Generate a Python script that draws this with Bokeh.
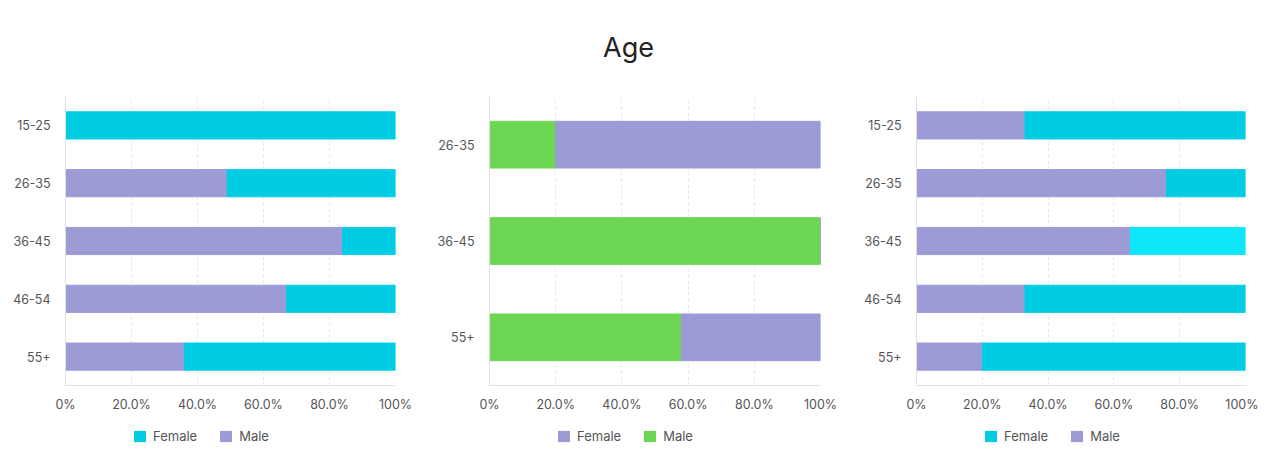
from bokeh.plotting import figure
from bokeh.layouts import column, row
from bokeh.models import (Range1d, FixedTicker, Legend, LegendItem, ColumnDataSource)
from bokeh.core.properties import value
from bokeh.embed import file_html
from bokeh.resources import INLINE

# ---------------- data ----------------
title_text = "Age"
x_ticks = [0, 20, 40, 60, 80, 100]
x_tick_labels = ["0%", "20.0%", "40.0%", "60.0%", "80.0%", "100%"]

left_cats = ["15-25", "26-35", "36-45", "46-54", "55+"]
left_male = [0, 49, 84, 67, 36]
left_female = [100, 51, 16, 33, 64]

mid_cats = ["26-35", "36-45", "55+"]
mid_male = [20, 100, 58]      # green
mid_female = [80, 0, 42]      # purple

right_cats = ["15-25", "26-35", "36-45", "46-54", "55+"]
right_male = [33, 76, 65, 33, 20]
right_female = [67, 24, 35, 67, 80]

legend_labels = ["Female", "Male"]

CYAN = "#00CDE4"
CYAN_HI = "#10E6F9"
PURPLE = "#9C9BD6"
GREEN = "#6DD754"
FONT = "Inter"
LABEL_C = "#555555"


def make_fig(cats, width, border_left, border_right):
    p = figure(width=width, height=332, y_range=list(reversed(cats)),
               x_range=Range1d(0, 100), output_backend="svg", toolbar_location=None,
               min_border_left=border_left, min_border_right=border_right,
               min_border_top=8, min_border_bottom=35)
    p.outline_line_color = None
    p.ygrid.grid_line_color = None
    p.xgrid.ticker = FixedTicker(ticks=x_ticks)
    p.xgrid.grid_line_color = "#e6e6e6"
    p.xgrid.grid_line_dash = "3 3"
    p.xaxis.ticker = FixedTicker(ticks=x_ticks)
    p.xaxis.major_label_overrides = {t: l for t, l in zip(x_ticks, x_tick_labels)}
    for ax in (p.xaxis[0], p.yaxis[0]):
        ax.axis_line_color = "#e0e0e0"
        ax.major_tick_line_color = None
        ax.minor_tick_line_color = None
        ax.major_tick_out = 0
        ax.major_tick_in = 0
        ax.minor_tick_out = 0
        ax.minor_tick_in = 0
        ax.major_label_text_font = FONT
        ax.major_label_text_font_size = "12.5px"
        ax.major_label_text_color = LABEL_C
    p.xaxis.major_label_standoff = 11
    p.yaxis.major_label_standoff = 15
    return p


def legend_fig(width, border_left, colors):
    lf = figure(width=width, height=40, x_range=Range1d(0, 1), y_range=Range1d(0, 1),
                output_backend="svg", toolbar_location=None, min_border=0)
    lf.axis.visible = False
    lf.grid.visible = False
    lf.outline_line_color = None
    items = []
    for lab, col in zip(legend_labels, colors):
        # zero-size proxy bar: only its legend swatch is seen
        r = lf.hbar(y=[0.5], left=[0], right=[0], height=0, fill_color=col,
                    line_color=None)
        items.append(LegendItem(label=lab, renderers=[r]))
    lg = Legend(items=items, orientation="horizontal", location=(border_left + 67, 16),
                glyph_width=15, glyph_height=14, label_height=14, label_standoff=6,
                spacing=21, padding=0, margin=0, border_line_alpha=0,
                background_fill_alpha=0, label_text_font=FONT,
                label_text_font_size="13px", label_text_color=LABEL_C,
                label_text_baseline="middle")
    lf.add_layout(lg)
    return lf


# ---------- left ----------
p1 = make_fig(left_cats, 430, 65, 35)
s1 = ColumnDataSource(dict(cat=left_cats, male=left_male,
                           tot=[m + f for m, f in zip(left_male, left_female)]))
p1.hbar(y="cat", left=0, right="male", height=0.47, color=PURPLE, source=s1)
p1.hbar(y="cat", left="male", right="tot", height=0.47, color=CYAN, source=s1)
l1 = legend_fig(430, 65, [CYAN, PURPLE])

# ---------- middle ----------
p2 = make_fig(mid_cats, 425, 59, 35)
s2 = ColumnDataSource(dict(cat=mid_cats, male=mid_male,
                           tot=[m + f for m, f in zip(mid_male, mid_female)]))
p2.hbar(y="cat", left=0, right="male", height=0.485, color=GREEN, source=s2)
p2.hbar(y="cat", left="male", right="tot", height=0.485, color=PURPLE, source=s2)
l2 = legend_fig(425, 59, [PURPLE, GREEN])

# ---------- right ----------
p3 = make_fig(right_cats, 403, 61, 13)
fcols = [CYAN_HI if c == "36-45" else CYAN for c in right_cats]
s3 = ColumnDataSource(dict(cat=right_cats, male=right_male,
                           tot=[m + f for m, f in zip(right_male, right_female)],
                           fc=fcols))
p3.hbar(y="cat", left=0, right="male", height=0.47, color=PURPLE, source=s3)
p3.hbar(y="cat", left="male", right="tot", height=0.47, fill_color="fc",
        line_color="fc", source=s3)
l3 = legend_fig(403, 61, [CYAN, PURPLE])

# ---------- title ----------
pt = figure(width=1258, height=88, x_range=Range1d(0, 1258), y_range=Range1d(0, 88),
            output_backend="svg", toolbar_location=None, min_border=0)
pt.axis.visible = False
pt.grid.visible = False
pt.outline_line_color = None
pt.text(x=[628], y=[41], text=[title_text], text_align="center",
        text_baseline="middle", text_font=value(FONT), text_font_size="27px",
        text_color="#222222")

layout = column(pt, row(p1, p2, p3), row(l1, l2, l3))
open("out.html", "w").write(file_html(layout, INLINE))
